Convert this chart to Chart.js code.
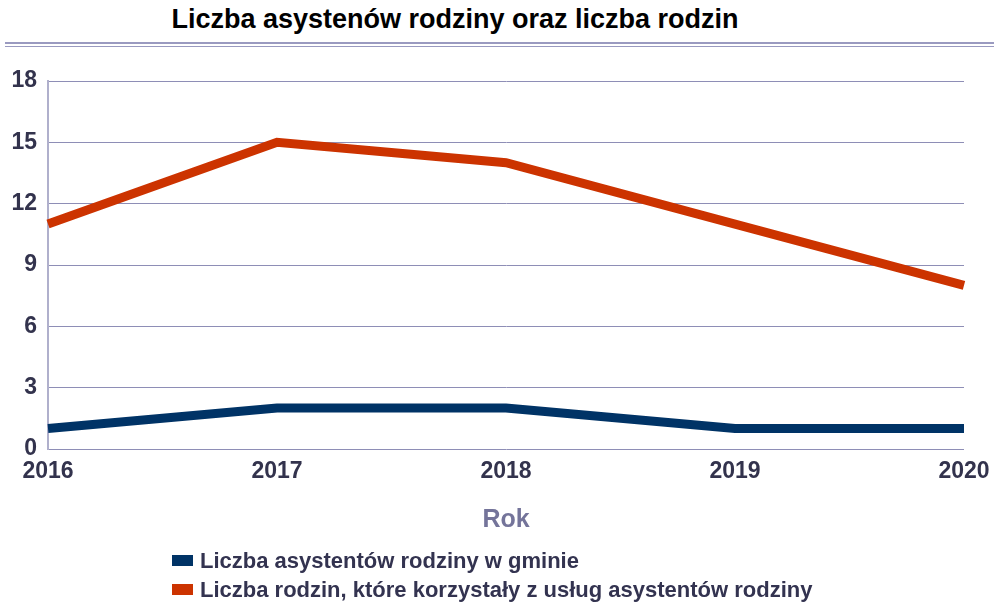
<!DOCTYPE html>
<html><head><meta charset="utf-8">
<script src="https://cdn.jsdelivr.net/npm/chart.js@4.4.1/dist/chart.umd.min.js"></script>
<style>
html,body{margin:0;padding:0;background:#fff;}
#wrap{position:relative;width:994px;height:603px;overflow:hidden;font-family:"Liberation Sans",Arial,sans-serif;}
#title{position:absolute;left:0;top:4px;width:910px;text-align:center;font-weight:bold;font-size:27px;color:#000;white-space:nowrap;}
#rule1,#rule2{position:absolute;left:5px;right:0;height:2px;background:#9a9ac0;}
#rule1{top:42px;}#rule2{top:46px;height:1px;}
canvas{position:absolute;left:0;top:0;}
#legend{position:absolute;left:172px;top:546px;font-weight:bold;font-size:22px;color:#333350;}
.li{height:29px;line-height:29px;white-space:nowrap;}
.sw{display:inline-block;width:21px;height:11px;margin-right:7px;vertical-align:2px;}
</style></head>
<body><div id="wrap">
<div id="title">Liczba asystenów rodziny oraz liczba rodzin</div>
<div id="rule1"></div><div id="rule2"></div>
<canvas id="c" width="994" height="603"></canvas>
<div id="legend"></div>
</div>
<script>
const years = ['2016','2017','2018','2019','2020'];
const asystenci = [1, 2, 2, 1, 1];
const rodziny = [11, 15, 14, 11, 8];
const seriesNames = ['Liczba asystentów rodziny w gminie','Liczba rodzin, które korzystały z usług asystentów rodziny'];
const seriesColors = ['#003366','#cc3300'];
const yTicks = [0,3,6,9,12,15,18];

const leg = document.getElementById('legend');
seriesNames.forEach((n,i)=>{
  const d=document.createElement('div');d.className='li';
  d.innerHTML='<span class="sw" style="background:'+seriesColors[i]+'"></span>'+n;
  leg.appendChild(d);
});

const tickFont={family:'"Liberation Sans", Arial, sans-serif',weight:'bold',size:23};
new Chart(document.getElementById('c'),{
  type:'line',
  data:{labels:years,datasets:[
    {label:seriesNames[0],data:asystenci,borderColor:seriesColors[0],backgroundColor:seriesColors[0],borderWidth:9,pointRadius:0,tension:0,order:1},
    {label:seriesNames[1],data:rodziny,borderColor:seriesColors[1],backgroundColor:seriesColors[1],borderWidth:9,pointRadius:0,tension:0,order:2}
  ]},
  options:{
    responsive:false,animation:false,
    layout:{padding:{left:0,right:30,top:81,bottom:64}},
    plugins:{legend:{display:false},title:{display:false},tooltip:{enabled:false}},
    scales:{
      x:{type:'category',offset:false,
        grid:{display:false,drawTicks:false},
        border:{display:false},
        ticks:{font:tickFont,color:'#33334d',padding:9,maxRotation:0,autoSkip:false},
        title:{display:true,text:'Rok',font:{family:'"Liberation Sans", Arial, sans-serif',weight:'bold',size:25},color:'#74749a',padding:{top:7}},
        afterFit:s=>{s.height=90;s.paddingRight=0;s.paddingLeft=0;}
      },
      y:{min:0,max:18,
        afterBuildTicks:s=>{s.ticks=yTicks.map(v=>({value:v}));},
        grid:{color:'#8e8eb6',lineWidth:1,drawTicks:false},
        border:{display:true,color:'#b0b0cc',width:2},
        ticks:{font:tickFont,color:'#33334d',padding:11},
        afterFit:s=>{s.width=48;}
      }
    }
  }
});
</script>
</body></html>
